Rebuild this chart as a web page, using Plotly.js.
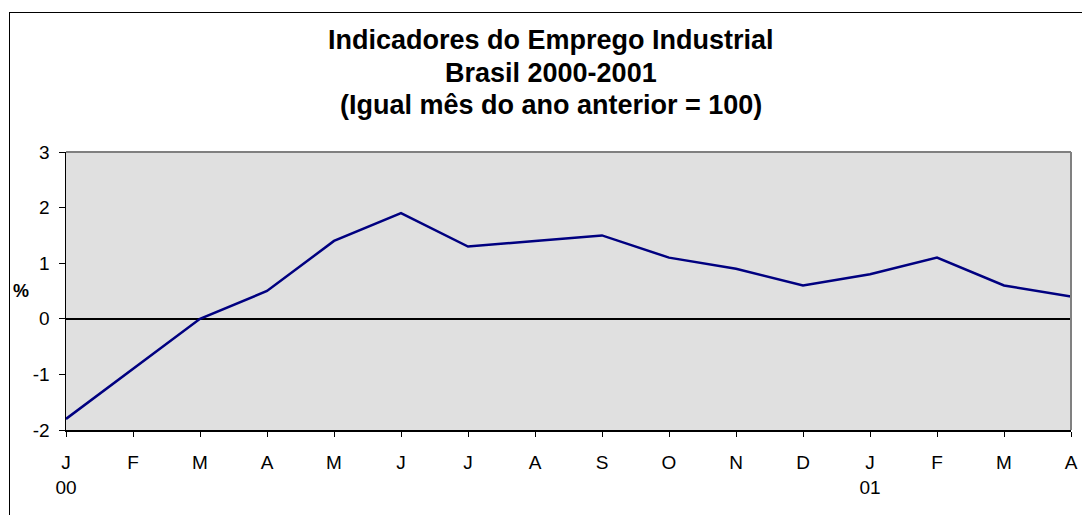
<!DOCTYPE html>
<html>
<head>
<meta charset="utf-8">
<script src="https://cdn.plot.ly/plotly-3.0.1.min.js"></script>
<style>
  body { margin: 0; background: #fff; }
  #wrap { position: relative; width: 1082px; height: 515px; overflow: hidden; }
  #frame { position: absolute; left: 9px; top: 12px; width: 1200px; height: 600px;
           border-left: 1px solid #000; border-top: 1px solid #000; pointer-events: none; }
  #chart { position: absolute; left: 0; top: 0; width: 1082px; height: 515px; }
</style>
</head>
<body>
<div id="wrap">
  <div id="chart"></div>
  <div id="frame"></div>
</div>
<script>
// Monthly labels, Jan 2000 - Apr 2001
const months = ['J', 'F', 'M', 'A', 'M', 'J', 'J', 'A', 'S', 'O', 'N', 'D', 'J', 'F', 'M', 'A'];
const years = ['00', '', '', '', '', '', '', '', '', '', '', '', '01', '', '', ''];
// Emprego industrial (%), same month of previous year = 100
const values = [-1.8, -0.9, 0.0, 0.5, 1.4, 1.9, 1.3, 1.4, 1.5, 1.1, 0.9, 0.6, 0.8, 1.1, 0.6, 0.4];
const yTicks = [-2, -1, 0, 1, 2, 3];
const titleLines = ['Indicadores do Emprego Industrial', 'Brasil 2000-2001', '(Igual mês do ano anterior = 100)'];

const xIdx = months.map((m, i) => i);
const tickText = months.map((m, i) => years[i] ? m + '<br>' + years[i] : m);

const font = { family: 'Arial, "Liberation Sans", sans-serif', color: '#000' };

const trace = {
    type: 'scatter',
    mode: 'lines',
    x: xIdx,
    y: values,
    line: { color: '#000080', width: 2.5 },
    hoverinfo: 'skip'
};

// title lines placed one by one (pixel rows 40, 73, 105 of the 278px plot height above y=430)
const titleY = [1.403, 1.284, 1.169];
const annotations = titleLines.map((t, i) => ({
    text: '<b>' + t + '</b>', xref: 'paper', yref: 'paper', x: 0.4826, y: titleY[i],
    xanchor: 'center', yanchor: 'middle', showarrow: false,
    font: Object.assign({ size: 27 }, font)
}));
annotations.push({
    text: '<b>%</b>', xref: 'paper', yref: 'paper', x: -0.0448, y: 0.5,
    xanchor: 'center', yanchor: 'middle', showarrow: false,
    font: Object.assign({ size: 18 }, font)
});

const layout = {
    width: 1082,
    height: 515,
    margin: { l: 66, r: 11, t: 152, b: 85 },
    paper_bgcolor: 'rgba(0,0,0,0)',
    plot_bgcolor: '#e0e0e0',
    showlegend: false,
    xaxis: {
        range: [0, xIdx.length - 1],
        tickmode: 'array',
        tickvals: xIdx,
        ticktext: tickText,
        ticks: 'outside',
        ticklen: 5,
        tickcolor: '#000',
        ticklabelstandoff: 10,
        showgrid: false,
        zeroline: false,
        showline: true,
        linecolor: '#000',
        linewidth: 1.5,
        tickfont: Object.assign({ size: 19 }, font),
        fixedrange: true
    },
    yaxis: {
        range: [-2, 3],
        tickmode: 'array',
        tickvals: yTicks,
        ticktext: yTicks.map(String),
        ticks: 'outside',
        ticklen: 6,
        tickcolor: '#000',
        ticklabelstandoff: 5,
        showgrid: false,
        zeroline: true,
        zerolinecolor: '#000',
        zerolinewidth: 2,
        showline: true,
        linecolor: '#000',
        linewidth: 1.5,
        tickfont: Object.assign({ size: 19 }, font),
        fixedrange: true
    },
    shapes: [
        { type: 'line', xref: 'paper', yref: 'paper', x0: 0, x1: 1, y0: 1, y1: 1,
          line: { color: '#808080', width: 2 } },
        { type: 'line', xref: 'paper', yref: 'paper', x0: 1, x1: 1, y0: 0, y1: 1,
          line: { color: '#808080', width: 2 } }
    ],
    annotations: annotations
};

Plotly.newPlot('chart', [trace], layout, { displayModeBar: false, staticPlot: true });
</script>
</body>
</html>
